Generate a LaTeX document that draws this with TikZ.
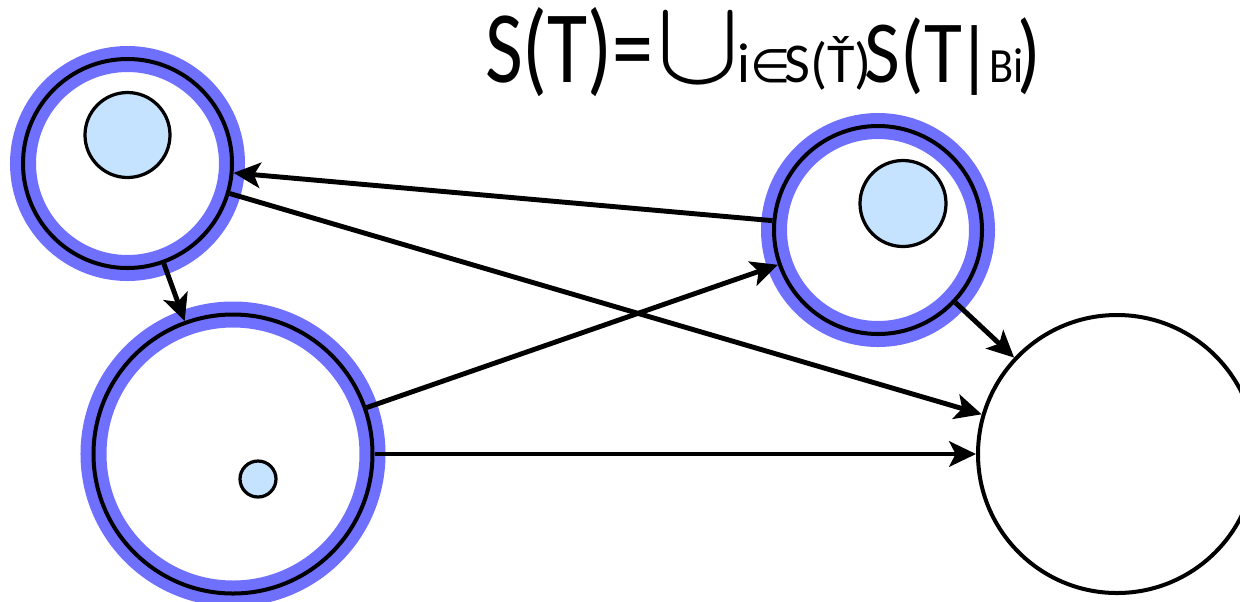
\documentclass[tikz,border=0pt]{standalone}
\usepackage{fontspec}
\setmainfont{Carlito}
\newfontfamily\dvfont{DejaVu Sans}
\usetikzlibrary{arrows.meta}
\newlength\PX
\setlength\PX{0.025cm}
\definecolor{ringblue}{RGB}{112,112,255}
\definecolor{innerfill}{RGB}{197,227,255}
\tikzset{
  state/.style={circle, draw=black, line width=2.85pt, inner sep=0pt},
  ringstate/.style={state, preaction={draw=ringblue, line width=18.5pt}},
  token/.style={circle, draw=black, line width=2.3pt, inner sep=0pt, fill=innerfill},
  edge/.style={line width=3.5pt, -{Stealth[length=19pt, width=18pt, inset=4.5pt]}}
}
\newcommand{\grpA}[1]{\scalebox{0.8}[1]{\fontsize{73}{73}\selectfont #1}}
\newcommand{\grpB}[1]{\scalebox{0.876}[1]{\fontsize{63}{63}\selectfont #1}}
\newcommand{\subA}[1]{{\fontsize{40}{40}\selectfont #1}}
\newcommand{\subB}[1]{\scalebox{0.9}[1]{\fontsize{35}{36}\selectfont #1}}
\begin{document}
\begin{tikzpicture}[x=0.025cm,y=-0.025cm]
\useasboundingbox (0,0) rectangle (1240,601);
\clip (0,0) rectangle (1240,601);
% formula
\node[anchor=base west, inner sep=0pt] (formula) at (485,82)
  {\grpA{S(T)=}\kern3\PX\scalebox{8.9}[8.6]{$\cup$}\kern-3\PX\subA{i{\dvfont\fontsize{33}{33}\selectfont ∈}\kern-6\PX S(Ť)}\kern-7\PX\grpB{S(T}\kern-5\PX{\fontsize{56}{56}\selectfont|}\kern-4\PX\subB{Bi}\kern-6\PX\grpB{)}};
% states
\node[ringstate, minimum size=209\PX] (A) at (127.5,163.5) {};
\node[ringstate, minimum size=208\PX] (B) at (878,230) {};
\node[ringstate, minimum size=279\PX] (C) at (233,454) {};
\node[state, minimum size=278\PX] (D) at (1117,454) {};
% tokens
\node[token, minimum size=85\PX] (ta) at (127.5,135) {};
\node[token, minimum size=86\PX] (tb) at (903,203.5) {};
\node[token, minimum size=36\PX] (tc) at (258,479) {};
% connectors
\draw[edge] (B) -- (A);
\draw[edge] (A) -- (D);
\draw[edge] (A) -- (C);
\draw[edge] (C) -- (B);
\draw[edge] (C) -- (D);
\draw[edge] (B) -- (D);
\end{tikzpicture}
\end{document}
